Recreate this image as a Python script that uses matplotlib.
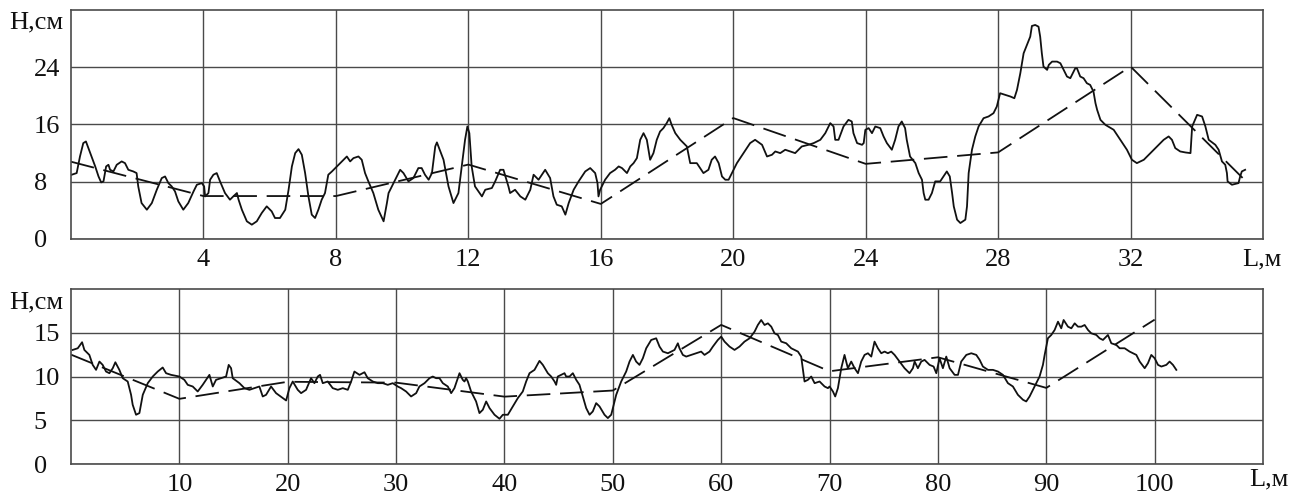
import matplotlib
matplotlib.use("Agg")
import matplotlib.pyplot as plt

plt.rcParams['font.family'] = ['Liberation Serif', 'DejaVu Serif']
plt.rcParams['lines.scale_dashes'] = False

# --- profile 1: L up to 36 m, H in cm ---
l1 = [0.02, 0.17, 0.27, 0.37, 0.45, 0.62, 0.73, 0.83, 0.91, 0.98, 1.06, 1.13, 1.18, 1.28,
      1.38, 1.53, 1.63, 1.73, 1.88, 1.98, 2.03, 2.13, 2.29, 2.44, 2.59, 2.74, 2.84, 2.94,
      3.04, 3.14, 3.24, 3.39, 3.54, 3.70, 3.80, 3.95, 4.02, 4.05, 4.15, 4.20, 4.30, 4.40,
      4.50, 4.65, 4.80, 4.90, 5.01, 5.06, 5.16, 5.31, 5.46, 5.61, 5.76, 5.91, 6.06, 6.16,
      6.31, 6.47, 6.57, 6.67, 6.77, 6.87, 6.97, 7.07, 7.17, 7.27, 7.37, 7.47, 7.57, 7.67,
      7.77, 7.88, 8.03, 8.18, 8.33, 8.43, 8.53, 8.68, 8.78, 8.88, 8.98, 9.13, 9.28, 9.44,
      9.54, 9.59, 9.69, 9.84, 9.94, 10.04, 10.19, 10.34, 10.49, 10.59, 10.69, 10.80, 10.90,
      11.00, 11.05, 11.25, 11.40, 11.55, 11.70, 11.80, 11.90, 11.97, 12.03, 12.10, 12.20,
      12.41, 12.51, 12.71, 12.81, 12.96, 13.06, 13.21, 13.26, 13.41, 13.57, 13.72, 13.87,
      13.97, 14.12, 14.32, 14.47, 14.57, 14.67, 14.82, 14.93, 15.03, 15.18, 15.33, 15.53,
      15.68, 15.83, 15.90, 15.93, 15.98, 16.03, 16.13, 16.28, 16.43, 16.54, 16.64, 16.79,
      16.89, 16.99, 17.09, 17.19, 17.29, 17.39, 17.49, 17.59, 17.69, 17.79, 17.89, 17.99,
      18.07, 18.14, 18.25, 18.40, 18.60, 18.70, 18.90, 19.10, 19.25, 19.35, 19.45, 19.56,
      19.66, 19.76, 19.86, 19.96, 20.11, 20.31, 20.51, 20.66, 20.87, 21.02, 21.17, 21.27,
      21.42, 21.57, 21.72, 21.87, 22.07, 22.27, 22.43, 22.63, 22.78, 22.93, 23.03, 23.08,
      23.18, 23.33, 23.48, 23.58, 23.63, 23.74, 23.89, 23.94, 23.99, 24.09, 24.19, 24.29,
      24.44, 24.54, 24.64, 24.79, 24.89, 24.99, 25.09, 25.19, 25.24, 25.34, 25.50, 25.60,
      25.70, 25.75, 25.80, 25.90, 26.00, 26.10, 26.25, 26.35, 26.45, 26.54, 26.61, 26.66,
      26.76, 26.86, 27.01, 27.06, 27.11, 27.21, 27.31, 27.41, 27.56, 27.71, 27.86, 27.96,
      28.06, 28.22, 28.37, 28.49, 28.57, 28.67, 28.77, 28.87, 28.97, 29.02, 29.12, 29.22,
      29.27, 29.32, 29.37, 29.48, 29.53, 29.63, 29.78, 29.88, 29.98, 30.08, 30.18, 30.33,
      30.38, 30.48, 30.58, 30.68, 30.78, 30.88, 30.94, 30.99, 31.09, 31.24, 31.49, 31.69,
      31.89, 32.04, 32.19, 32.40, 32.60, 32.80, 33.00, 33.15, 33.25, 33.35, 33.50, 33.66,
      33.81, 33.86, 34.01, 34.16, 34.26, 34.36, 34.56, 34.66, 34.76, 34.86, 34.91, 34.93,
      35.06, 35.26, 35.31, 35.36, 35.46]
h1 = [8.98, 9.21, 11.53, 13.40, 13.63, 11.53, 10.14, 8.74, 7.91, 8.05, 10.14, 10.37, 9.67, 9.44,
      10.37, 10.84, 10.60, 9.67, 9.44, 9.21, 7.35, 5.02, 4.09, 5.02, 6.88, 8.51, 8.74, 7.81,
      7.35, 6.65, 5.26, 4.09, 5.02, 6.65, 7.58, 7.81, 7.35, 5.95, 6.42, 8.28, 8.98, 9.21,
      8.05, 6.42, 5.49, 5.95, 6.42, 5.49, 4.09, 2.47, 2.00, 2.47, 3.63, 4.56, 3.86, 2.93,
      2.93, 4.09, 6.88, 10.14, 12.00, 12.56, 11.77, 9.21, 5.95, 3.40, 2.93, 4.09, 5.49, 6.42,
      8.98, 9.44, 10.14, 10.84, 11.53, 10.84, 11.30, 11.53, 11.07, 9.21, 8.05, 6.42, 4.09, 2.47,
      5.02, 6.42, 7.35, 8.74, 9.67, 9.21, 8.05, 8.51, 9.91, 9.91, 8.98, 8.28, 9.21,
      12.93, 13.50, 11.07, 7.35, 5.02, 6.42, 10.14, 13.86, 15.72, 14.79, 10.14, 7.35,
      5.95, 6.88, 7.12, 8.05, 9.67, 9.67, 7.35, 6.42, 6.88, 5.95, 5.49, 6.88,
      8.98, 8.28, 9.67, 8.51, 5.95, 4.79, 4.56, 3.40, 5.02, 6.88, 8.05, 9.44,
      9.91, 9.21, 7.81, 5.95, 6.88, 7.35, 8.28, 9.21, 9.67, 10.14, 9.91, 9.21,
      10.14, 10.60, 11.30, 13.86, 14.79, 13.86, 11.07, 12.00, 13.86, 15.02, 15.49, 16.19,
      16.88, 15.95, 14.79, 13.86, 12.93, 10.60, 10.60, 9.21, 9.67, 11.07, 11.53, 10.60,
      8.74, 8.28, 8.28, 9.21, 10.60, 12.00, 13.40, 13.86, 13.16, 11.53, 11.77, 12.23,
      12.00, 12.47, 12.23, 12.00, 12.93, 13.16, 13.40, 13.86, 14.79, 16.19, 15.72, 13.86,
      13.86, 15.72, 16.65, 16.42, 14.79, 13.40, 13.16, 13.40, 15.26, 15.49, 14.79, 15.72,
      15.49, 14.33, 13.40, 12.47, 13.86, 15.72, 16.42, 15.49, 13.86, 11.53, 10.60, 9.21,
      8.28, 6.42, 5.49, 5.49, 6.42, 8.05, 8.05, 8.74, 9.44, 8.74, 6.42, 4.56,
      2.70, 2.23, 2.70, 4.56, 9.21, 12.47, 14.33, 15.72, 16.88, 17.12, 17.58, 18.51,
      20.37, 20.14, 19.91, 19.67, 20.84, 23.16, 25.95, 27.12, 28.28, 29.77, 29.91, 29.67,
      28.28, 25.95, 24.09, 23.63, 24.33, 24.79, 24.79, 24.56, 23.63, 22.70, 22.47, 23.86,
      23.86, 22.70, 22.47, 21.77, 21.53, 20.60, 18.98, 18.05, 16.65, 15.95, 15.26, 13.86,
      12.47, 11.07, 10.60, 11.07, 12.00, 12.93, 13.86, 14.33, 13.86, 12.70, 12.23, 12.09,
      12.00, 15.72, 17.35, 17.12, 15.72, 13.86, 13.16, 12.47, 10.84, 10.37, 9.21, 8.05,
      7.58, 7.81, 8.74, 9.44, 9.67]
trend_l1 = [0, 4, 8, 12, 16, 20, 24, 28, 32, 35.5]
trend_h1 = [10.8, 6.0, 6.0, 10.4, 4.9, 16.9, 10.5, 12.1, 24.1, 8.0]

# --- profile 2: L up to 102 m ---
l2 = [0.15, 0.62, 1.02, 1.23, 1.69, 2.00, 2.31, 2.62, 2.92, 3.23, 3.54, 3.85, 4.09, 4.46,
      4.77, 5.23, 5.54, 5.69, 6.00, 6.31, 6.62, 7.08, 7.54, 8.00, 8.46, 8.77, 9.23, 10.00,
      10.46, 10.77, 11.23, 11.69, 12.15, 12.77, 13.08, 13.38, 13.85, 14.31, 14.55, 14.77,
      14.92, 15.54, 16.00, 16.46, 16.92, 17.38, 17.69, 18.00, 18.46, 18.92, 19.54, 19.85,
      20.15, 20.46, 20.92, 21.23, 21.69, 22.15, 22.46, 22.77, 22.98, 23.23, 23.69, 24.15,
      24.62, 25.08, 25.54, 25.85, 26.15, 26.62, 27.08, 27.38, 27.85, 28.31, 28.77, 29.23,
      29.69, 30.15, 30.46, 30.92, 31.38, 31.85, 32.15, 32.62, 33.08, 33.38, 33.69,
      34.00, 34.31, 34.77, 35.08, 35.38, 35.69, 35.85, 36.15, 36.31, 36.46, 36.62, 36.92,
      37.38, 37.69, 38.00, 38.31, 38.62, 39.08, 39.54, 39.85, 40.31, 40.77, 41.23, 41.69,
      42.00, 42.31, 42.77, 43.23, 43.54, 44.00, 44.31, 44.62, 44.77, 44.92, 45.23, 45.54,
      45.69, 46.00, 46.31, 46.62, 46.92, 47.23, 47.54, 47.85, 48.15, 48.46, 48.77, 49.23,
      49.54, 49.85, 50.31, 50.77, 51.23, 51.54, 51.85, 52.15, 52.46, 52.77, 53.08, 53.54,
      54.00, 54.31, 54.62, 55.08, 55.38, 55.69, 56.00, 56.15, 56.46, 56.77, 57.23, 57.69,
      58.15, 58.46, 58.92, 59.23, 59.69, 60.00, 60.31, 60.77, 61.23, 61.69, 62.15, 62.62,
      63.08, 63.38, 63.69, 64.00, 64.31, 64.62, 64.92, 65.23, 65.54, 66.00, 66.46, 66.77,
      67.08, 67.38, 67.69, 68.00, 68.31, 68.62, 69.08, 69.54, 69.85, 70.00, 70.31, 70.52,
      70.77, 71.08, 71.38, 71.69, 72.00, 72.31, 72.62, 72.92, 73.23, 73.54, 73.85, 74.15,
      74.46, 74.77, 75.08, 75.38, 75.69, 76.00, 76.46, 76.92, 77.38, 77.69, 77.85, 78.15,
      78.46, 78.77, 79.23, 79.60, 79.85, 80.15, 80.46, 80.77, 81.08, 81.54, 81.85, 82.15,
      82.62, 83.08, 83.54, 83.85, 84.15, 84.62, 85.08, 85.54, 86.00, 86.46, 86.92, 87.38,
      87.85, 88.15, 88.46, 88.92, 89.38, 89.69, 89.85, 90.15, 90.46, 90.77, 91.08, 91.38,
      91.60, 92.00, 92.31, 92.62, 92.92, 93.23, 93.54, 93.85, 94.15, 94.62, 94.92, 95.23,
      95.69, 96.00, 96.46, 96.77, 97.23, 97.69, 98.00, 98.31, 98.62, 99.08, 99.38, 99.69,
      100.00, 100.31, 100.62, 101.08, 101.38, 101.69, 102.00]
h2 = [13.04, 13.23, 13.92, 13.04, 12.47, 11.33, 10.76, 11.71, 11.33, 10.57, 10.38, 10.95, 11.63, 10.76,
      9.81, 9.43, 7.91, 6.77, 5.63, 5.82, 7.91, 9.24, 10.00, 10.57, 11.03, 10.38, 10.19, 10.00,
      9.62, 9.05, 8.86, 8.29, 9.05, 10.19, 8.86, 9.62, 9.81, 10.00, 11.33, 10.95,
      9.81, 9.24, 8.67, 8.48, 8.67, 8.86, 7.72, 7.91, 8.86, 8.10, 7.53, 7.26,
      8.67, 9.43, 8.48, 8.10, 8.48, 9.81, 9.24, 10.00, 10.19, 9.24, 9.43, 8.67,
      8.48, 8.67, 8.48, 9.43, 10.57, 10.19, 10.49, 9.81, 9.43, 9.24, 9.24, 9.05,
      9.24, 8.86, 8.67, 8.29, 7.72, 8.10, 8.86, 9.24, 9.81, 10.00, 9.81,
      9.81, 9.24, 8.86, 8.10, 8.67, 9.81, 10.38, 9.62, 9.43, 9.81, 9.43, 8.29,
      7.15, 5.82, 6.20, 7.15, 6.39, 5.63, 5.17, 5.63, 5.63, 6.58, 7.53, 8.29,
      9.43, 10.38, 10.76, 11.79, 11.33, 10.38, 10.00, 9.43, 9.05, 10.00, 10.19, 10.38,
      10.00, 10.00, 10.38, 9.62, 9.05, 7.72, 6.39, 5.63, 6.01, 6.96, 6.58, 5.63,
      5.25, 5.63, 7.91, 9.43, 10.57, 11.71, 12.47, 11.71, 11.33, 12.09, 13.23, 14.18,
      14.37, 13.42, 12.85, 12.66, 12.85, 13.04, 13.80, 13.23, 12.47, 12.28, 12.47, 12.66,
      12.85, 12.47, 12.85, 13.42, 14.18, 14.56, 13.99, 13.42, 13.04, 13.42, 13.99, 14.37,
      15.13, 15.89, 16.46, 15.89, 16.08, 15.70, 14.94, 14.75, 13.99, 13.80, 13.23, 13.04,
      12.85, 12.28, 9.43, 9.62, 10.00, 9.24, 9.43, 8.86, 8.67, 8.86, 8.29, 7.72,
      8.67, 10.95, 12.47, 10.95, 11.71, 10.95, 10.38, 11.71, 12.47, 12.66, 12.28, 13.99,
      13.23, 12.66, 12.85, 12.66, 12.85, 12.47, 11.71, 10.95, 10.38, 10.95, 11.71, 10.95,
      11.71, 11.90, 11.33, 11.14, 10.38, 12.09, 10.95, 12.28, 10.95, 10.19, 10.19, 11.71,
      12.47, 12.66, 12.47, 11.90, 11.14, 10.76, 10.76, 10.57, 10.19, 9.24, 8.86, 7.91,
      7.34, 7.15, 7.72, 8.86, 10.00, 11.33, 12.47, 14.37, 14.75, 15.32, 16.27, 15.51,
      16.46, 15.70, 15.51, 16.08, 15.70, 15.70, 15.89, 15.32, 14.94, 14.75, 14.37, 14.18,
      14.75, 13.80, 13.61, 13.23, 13.23, 12.85, 12.66, 12.47, 11.71, 10.95, 11.52, 12.47,
      12.09, 11.33, 11.14, 11.33, 11.71, 11.33, 10.76]
trend_l2 = [0, 10, 20, 30, 40, 50, 60, 70, 80, 90, 100]
trend_h2 = [12.5, 7.45, 9.4, 9.3, 7.7, 8.4, 15.9, 10.6, 12.2, 8.7, 16.5]

GRID = '#4a4a4a'
INK = '#111111'
FS = 19

fig = plt.figure(figsize=(13.01, 4.95), dpi=100)
ax1 = fig.add_axes([0.0546, 0.5172, 0.9162, 0.4626])
ax2 = fig.add_axes([0.0546, 0.0626, 0.9162, 0.3535])


def style(ax, xlim, ylim, xt, yt):
    ax.set_xlim(*xlim)
    ax.set_ylim(*ylim)
    ax.set_xticks(xt)
    ax.set_yticks(yt)
    ax.set_xticklabels([str(v) for v in xt])
    ax.set_yticklabels([str(v) for v in yt])
    for lbl in ax.get_yticklabels():
        lbl.set_horizontalalignment('left')
    ax.tick_params(axis='both', length=0, labelsize=FS, colors=INK)
    ax.tick_params(axis='y', pad=27)
    ax.tick_params(axis='x', pad=7)
    ax.grid(True, color=GRID, lw=1.0)
    ax.set_axisbelow(True)
    for s in ax.spines.values():
        s.set_color(GRID)
        s.set_linewidth(1.2)


style(ax1, (0, 36), (0, 32), [4, 8, 12, 16, 20, 24, 28, 32], [0, 8, 16, 24])
style(ax2, (0, 110), (0, 20), [10, 20, 30, 40, 50, 60, 70, 80, 90, 100], [0, 5, 10, 15])

for ax, l, h, tl, th in [(ax1, l1, h1, trend_l1, trend_h1), (ax2, l2, h2, trend_l2, trend_h2)]:
    ax.plot(l, h, color=INK, lw=1.3, solid_joinstyle='round')
    ax.plot(tl, th, color=INK, lw=1.3, dashes=(17, 7))

fig.text(36 / 1301, 1 - 22 / 495, 'H,см', fontsize=FS, ha='center', va='center', color=INK)
fig.text(36 / 1301, 1 - 302 / 495, 'H,см', fontsize=FS, ha='center', va='center', color=INK)
fig.text(1262 / 1301, 1 - 259 / 495, 'L,м', fontsize=FS, ha='center', va='center', color=INK)
fig.text(1269 / 1301, 1 - 479 / 495, 'L,м', fontsize=FS, ha='center', va='center', color=INK)

fig.savefig('out.png', dpi=100)
